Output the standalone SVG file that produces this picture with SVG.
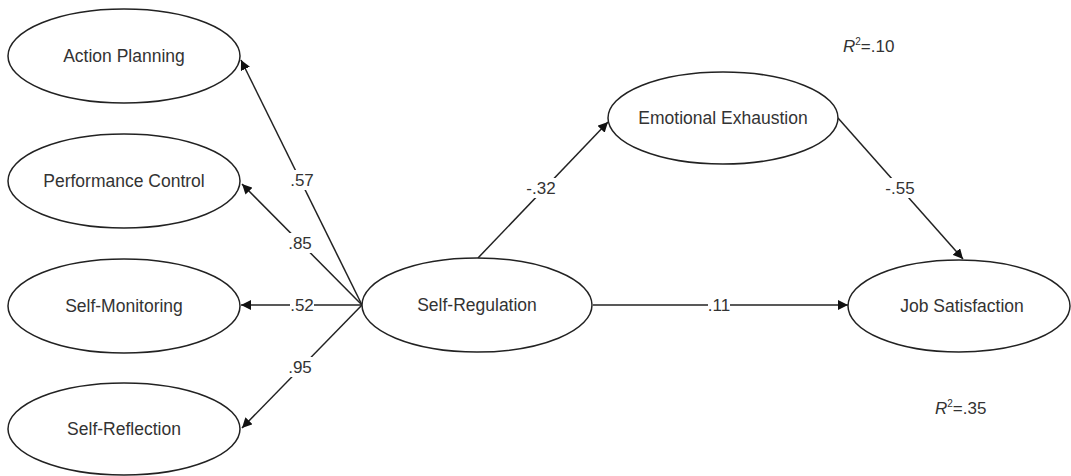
<svg xmlns="http://www.w3.org/2000/svg" width="1071" height="476" viewBox="0 0 1071 476">
<defs>
<marker id="arr" viewBox="0 0 10 10" refX="10" refY="5" markerWidth="10" markerHeight="10" markerUnits="userSpaceOnUse" orient="auto">
<path d="M0,0 L10,5 L0,10 z" fill="#111"/>
</marker>
<style>
.node ellipse{fill:#fff;stroke:#222;stroke-width:1.5}
.node text{font-family:"Liberation Sans",Arial,sans-serif;font-size:17.5px;fill:#333;text-anchor:middle;dominant-baseline:central}
.edge{stroke:#222;stroke-width:1.5;fill:none}
.lbl{font-family:"Liberation Sans",Arial,sans-serif;font-size:17px;fill:#333;text-anchor:middle;dominant-baseline:central}
.bg{fill:#fff}
.r2{font-family:"Liberation Sans",Arial,sans-serif;font-size:17px;fill:#333}
</style>
</defs>
<rect width="1071" height="476" fill="#fff"/>
<g id="connectors">
<line class="edge" x1="362" y1="305" x2="241" y2="60" marker-end="url(#arr)"/>
<line class="edge" x1="362" y1="305" x2="242" y2="184" marker-end="url(#arr)"/>
<line class="edge" x1="362" y1="305" x2="241" y2="305" marker-end="url(#arr)"/>
<line class="edge" x1="362" y1="305" x2="242" y2="428" marker-end="url(#arr)"/>
<line class="edge" x1="478" y1="258" x2="608" y2="122" marker-end="url(#arr)"/>
<line class="edge" x1="593" y1="305" x2="848" y2="305" marker-end="url(#arr)"/>
<line class="edge" x1="838" y1="118" x2="963" y2="259" marker-end="url(#arr)"/>
<rect class="bg" x="289" y="170" width="26" height="20"/>
<text class="lbl" x="302" y="180">.57</text>
<rect class="bg" x="287" y="233" width="26" height="20"/>
<text class="lbl" x="300" y="243">.85</text>
<rect class="bg" x="290" y="295" width="24" height="20"/>
<text class="lbl" x="302" y="305">.52</text>
<rect class="bg" x="287" y="357" width="26" height="20"/>
<text class="lbl" x="300" y="367">.95</text>
<rect class="bg" x="525" y="178" width="32" height="20"/>
<text class="lbl" x="541" y="188">-.32</text>
<rect class="bg" x="708" y="295" width="22" height="20"/>
<text class="lbl" x="719" y="305">.11</text>
<rect class="bg" x="884" y="178" width="32" height="20"/>
<text class="lbl" x="900" y="188">-.55</text>
</g>
<g id="n-action-planning" class="node"><ellipse cx="124" cy="56" rx="116" ry="47"/><text x="124" y="56">Action Planning</text></g>
<g id="n-performance-control" class="node"><ellipse cx="124" cy="181" rx="116" ry="47"/><text x="124" y="181">Performance Control</text></g>
<g id="n-self-monitoring" class="node"><ellipse cx="124" cy="306" rx="116" ry="47"/><text x="124" y="306">Self-Monitoring</text></g>
<g id="n-self-reflection" class="node"><ellipse cx="124" cy="429" rx="116" ry="46"/><text x="124" y="429">Self-Reflection</text></g>
<g id="n-self-regulation" class="node"><ellipse cx="477" cy="305" rx="115" ry="47"/><text x="477" y="305">Self-Regulation</text></g>
<g id="n-emotional-exhaustion" class="node"><ellipse cx="723" cy="118" rx="115" ry="46"/><text x="723" y="118">Emotional Exhaustion</text></g>
<g id="n-job-satisfaction" class="node"><ellipse cx="959" cy="306" rx="111" ry="46"/><text x="962" y="306">Job Satisfaction</text></g>
<g id="r2-labels">
<text class="r2" x="843" y="52"><tspan font-style="italic">R</tspan><tspan font-size="10" dy="-7">2</tspan><tspan dy="7">=.10</tspan></text>
<text class="r2" x="935" y="414"><tspan font-style="italic">R</tspan><tspan font-size="10" dy="-7">2</tspan><tspan dy="7">=.35</tspan></text>
</g>
</svg>
